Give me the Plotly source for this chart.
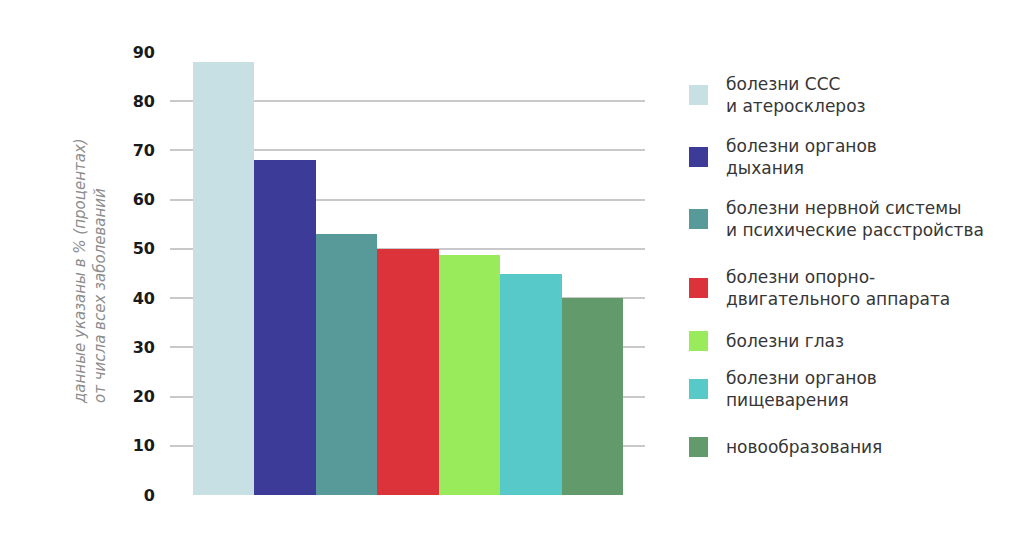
import plotly.graph_objects as go

# values (% of all diseases)
categories = [
    "болезни ССС<br>и атеросклероз",
    "болезни органов<br>дыхания",
    "болезни нервной системы<br>и психические расстройства",
    "болезни опорно-<br>двигательного аппарата",
    "болезни глаз",
    "болезни органов<br>пищеварения",
    "новообразования",
]
values = [88, 68, 53, 50, 48.7, 45, 40]
colors = ["#c6e0e4", "#3c3b97", "#589a9a", "#dc333b", "#9aeb5b", "#57c9c8", "#639a6b"]
y_ticks = [0, 10, 20, 30, 40, 50, 60, 70, 80, 90]

W, H = 1024, 547
# plot area in the reference: x 170..645, y 52..495
PX0, PX1, PY0, PY1 = 170, 645, 52, 495
pw, ph = PX1 - PX0, PY1 - PY0
OFF = 8  # the page body adds an 8px margin around the figure
L, T = PX0 - OFF, PY0 - OFF
R, B = W - L - pw, H - T - ph


def px_x(p):
    # reference pixel -> paper x
    return (p - PX0) / pw


def px_y(p):
    # reference pixel -> paper y
    return (PY1 - p) / ph


fig = go.Figure(go.Bar(
    x=list(range(len(values))),
    y=values,
    width=1,
    marker=dict(color=colors, line=dict(width=0)),
    hovertext=[c.replace("<br>", " ") for c in categories],
    hoverinfo="text+y",
))

# hand-made legend so the squares and spacing match the original
legend_centers = [95, 157, 219, 288, 341, 389, 447]
for label, col, cy in zip(categories, colors, legend_centers):
    fig.add_shape(
        type="rect", xref="paper", yref="paper",
        x0=px_x(689), x1=px_x(708), y0=px_y(cy + 10), y1=px_y(cy - 10),
        fillcolor=col, line=dict(width=0),
    )
    fig.add_annotation(
        x=px_x(724), y=px_y(cy), xref="paper", yref="paper",
        text=label, showarrow=False, xanchor="left", yanchor="middle", align="left",
        font=dict(family="DejaVu Sans", size=17, color="#363636"),
    )

# rotated axis note
fig.add_annotation(
    x=px_x(90), y=px_y(271), xref="paper", yref="paper",
    text="<i>данные указаны в % (процентах)<br>от числа всех заболеваний</i>",
    showarrow=False, textangle=-90, align="left",
    xanchor="center", yanchor="middle",
    font=dict(family="DejaVu Sans", size=15, color="#8c8c8c"),
)

fig.update_layout(
    width=W, height=H,
    margin=dict(l=L, r=R, t=T, b=B),
    paper_bgcolor="white", plot_bgcolor="white",
    showlegend=False,
    bargap=0,
    xaxis=dict(range=[-0.874, 6.858], showticklabels=False, showgrid=False,
               zeroline=False, ticks="", fixedrange=True),
    yaxis=dict(range=[0, 90], tickvals=y_ticks, showgrid=True, gridcolor="#c9c9c9",
               gridwidth=1.5, zeroline=False, ticks="", ticklabelstandoff=14,
               tickfont=dict(family="DejaVu Sans", size=16, color="#1a1a1a", weight="bold"),
               fixedrange=True),
)

fig.write_html("out.html")
